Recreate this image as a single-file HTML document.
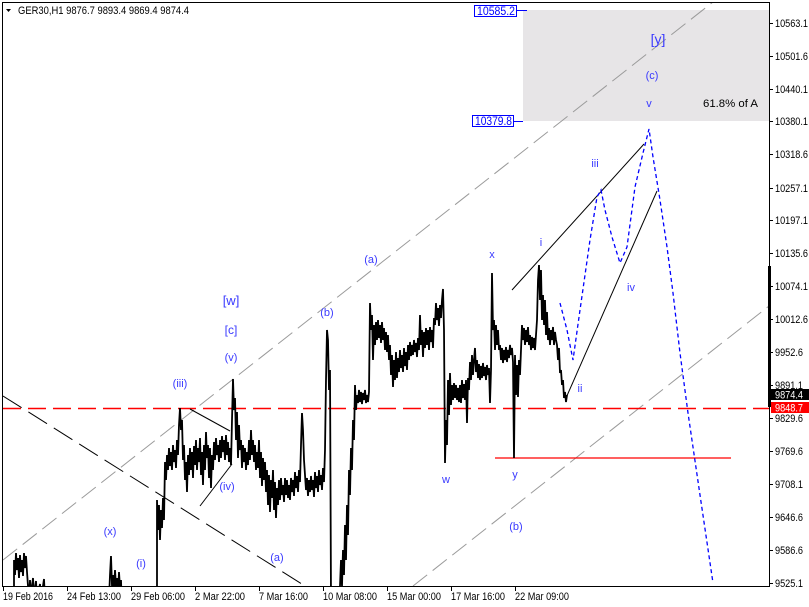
<!DOCTYPE html>
<html>
<head>
<meta charset="utf-8">
<style>
html,body{margin:0;padding:0;background:#fff;}
svg{display:block;}
text{font-family:"Liberation Sans","DejaVu Sans",sans-serif;}
</style>
</head>
<body>
<svg width="809" height="607" viewBox="0 0 809 607" xmlns="http://www.w3.org/2000/svg">
<defs>
<clipPath id="pa"><rect x="3" y="2" width="766" height="584"/></clipPath>
</defs>
<rect x="0" y="0" width="809" height="607" fill="#fff"/>

<!-- gray target box -->
<rect x="523" y="10" width="246" height="111" fill="#e7e5e7"/>

<g clip-path="url(#pa)">
<!-- gray channel lines -->
<line x1="3" y1="560" x2="713" y2="2" stroke="#9a9a9a" stroke-width="1" stroke-dasharray="18,7"/>
<line x1="413" y1="586" x2="769" y2="306" stroke="#9a9a9a" stroke-width="1" stroke-dasharray="18,7"/>
<!-- black dashed line -->
<line x1="3" y1="396" x2="305" y2="586" stroke="#000" stroke-width="1" stroke-dasharray="22,8"/>
<!-- red dashed line -->
<line x1="3" y1="408.5" x2="769" y2="408.5" stroke="#ff0000" stroke-width="1.5" stroke-dasharray="18,7"/>
<!-- red solid -->
<line x1="495" y1="458" x2="731" y2="458" stroke="#ff0000" stroke-width="1.3"/>

<!-- price series -->
<polyline fill="none" stroke="#000" stroke-width="1.8" stroke-linejoin="miter" points="
12,620 14,600 14,560 15,575 16,553 17,570 18,558 19,578 20,555 21,572 22,560 23,576 24,553 25,568 26,556 27,572 28,586 29,600 30,580 31,595 33,578 34,596 36,581 37,598 40,584 41,600 44,579 45,600 46,620 108,620
109,600 110,575 111,556 112,586 113,575 114,590 115,570 116,586 117,578 118,594 119,572 120,588 121,580 122,610 156,620
157,620 157,500 158,530 159,505 160,540 161,510 162,528 163,498 164,520 165,462 166,480 167,455 168,470 169,448 170,466 171,452 172,470 173,445 174,462 175,450 176,468 177,440 178,455 179,425 180,408 181,430 182,420 183,460 184,445 185,480 186,462 187,492 188,455 189,475 190,448 191,470 192,452 193,478 194,446 195,465 196,440 197,470 198,448 199,462 200,438 201,475 202,452 203,485 204,445 205,470 206,432 207,458 208,445 209,478 210,448 211,488 212,455 213,470 214,442 215,460 216,438 217,455 218,445 219,462 220,440 221,458 222,436 223,452 224,440 225,460 226,435 227,455 228,442 229,462 230,448 231,465 232,420 233,379 234,410 235,398 236,440 237,412 238,458 239,425 240,450 241,440 242,468 243,445 244,462 245,448 246,470 247,452 248,465 249,440 250,460 251,430 252,455 253,440 254,462 255,445 256,470 257,452 258,468 259,440 260,478 261,452 262,486 263,458 264,480 265,462 266,492 267,470 268,505 269,475 270,512 271,480 272,498 273,470 274,510 275,482 276,518 277,488 278,505 279,480 280,500 281,478 282,495 283,485 284,502 285,478 286,495 287,480 288,498 289,485 290,500 291,478 292,492 293,480 294,496 295,472 296,488 297,476 298,492 299,470 300,482 301,445 302,413 303,430 304,460 305,475 306,490 307,478 308,496 309,480 310,492 311,476 312,490 313,480 314,497 315,472 316,488 317,476 318,492 319,470 320,485 321,475 322,490 323,468 324,482 325,450 326,380 327,330 328,340 329,390 330,370 331,600 332,620 338,620
340,586 341,560 342,586 343,550 344,575 345,525 346,560 347,505 348,535 349,470 350,495 351,448 352,470 353,420 354,440 355,385 356,410 357,395 358,403 359,390 360,402 361,392 362,404 363,393 364,400 365,390 366,403 367,395 368,402 369,392 370,303 371,330 372,315 373,360 374,325 375,345 376,322 377,340 378,320 379,338 380,325 381,343 382,322 383,340 384,328 385,350 386,332 387,352 388,335 389,360 390,345 391,375 392,355 393,387 394,360 395,380 396,352 397,378 398,358 399,372 400,350 401,368 402,355 403,372 404,348 405,366 406,352 407,370 408,345 409,360 410,342 411,356 412,345 413,355 414,340 415,352 416,343 417,357 418,338 419,350 420,315 421,345 422,330 423,357 424,332 425,348 426,328 427,345 428,330 429,350 430,327 431,342 432,330 433,348 434,318 435,325 436,303 437,320 438,308 439,326 440,305 441,318 442,300 443,289 444,330 445,463 446,420 447,445 448,380 449,415 450,373 451,405 452,385 453,400 454,383 455,398 456,385 457,400 458,388 459,402 460,385 461,403 462,380 463,398 464,384 465,400 466,380 467,423 468,378 469,390 470,362 471,380 472,355 473,375 474,360 475,348 476,372 477,360 478,378 479,364 480,380 481,366 482,378 483,363 484,376 485,367 486,380 487,365 488,375 489,368 490,403 491,370 492,273 493,330 494,320 495,350 496,325 497,345 498,330 499,350 500,345 501,360 502,348 503,363 504,350 505,360 506,347 507,362 508,350 509,358 510,345 511,355 512,348 513,362 514,458 515,355 516,395 517,365 518,397 519,360 520,375 521,350 522,325 523,340 524,328 525,345 526,330 527,342 528,327 529,345 530,335 531,350 532,337 533,348 534,338 535,350 536,335 537,320 538,280 539,265 540,300 541,270 542,320 543,295 544,325 545,300 546,335 547,312 548,340 549,328 550,345 551,330 552,340 553,327 554,345 555,332 556,340 557,345 558,360 559,348 560,373 561,370 562,385 563,380 564,398 565,392 566,402 567,395"/>

<!-- black solid lines -->
<line x1="190" y1="409" x2="230" y2="431" stroke="#000" stroke-width="1"/>
<line x1="200" y1="506" x2="232" y2="464" stroke="#000" stroke-width="1"/>
<line x1="512" y1="290" x2="644" y2="144" stroke="#000" stroke-width="1"/>
<line x1="566" y1="398" x2="657" y2="191" stroke="#000" stroke-width="1"/>

<!-- blue dotted projection -->
<polyline fill="none" stroke="#0000ff" stroke-width="1.3" stroke-dasharray="4,3" points="560,303 567,330 573,360 580,310 590,240 597,197 601,190 605,210 612,237 620,263 627,247 635,187 643,153 649,129 653,157 660,200 667,247 673,293 680,353 688,413 700,495 713,583"/>
</g>

<!-- plot frame -->
<rect x="2.5" y="2.5" width="767" height="584" fill="none" stroke="#000" stroke-width="1"/>
<rect x="768" y="266" width="3" height="141" fill="#000"/>

<!-- header -->
<polygon points="6,9 11,9 8.5,12" fill="#000"/>
<text x="18" y="14" font-size="11" fill="#000" textLength="171" lengthAdjust="spacingAndGlyphs">GER30,H1  9876.7 9893.4 9869.4 9874.4</text>

<!-- box labels -->
<rect x="474.5" y="5.5" width="42" height="11" fill="#fff" stroke="#0000ff" stroke-width="1"/>
<text x="477" y="15" font-size="11.5" fill="#0000ff" textLength="38" lengthAdjust="spacingAndGlyphs">10585.2</text>
<line x1="517" y1="10.5" x2="527" y2="10.5" stroke="#0000ff" stroke-width="1"/>
<rect x="472.5" y="115.5" width="41" height="11" fill="#fff" stroke="#0000ff" stroke-width="1"/>
<text x="475" y="125" font-size="11.5" fill="#0000ff" textLength="37" lengthAdjust="spacingAndGlyphs">10379.8</text>
<line x1="513" y1="121.5" x2="523" y2="121.5" stroke="#0000ff" stroke-width="1"/>

<!-- wave labels -->
<g fill="#3a3aff" font-size="11" text-anchor="middle">
<text x="658" y="44" font-size="14">[y]</text>
<text x="652" y="79">(c)</text>
<text x="649" y="107">v</text>
<text x="371" y="263">(a)</text>
<text x="492" y="258">x</text>
<text x="541" y="246">i</text>
<text x="595" y="167">iii</text>
<text x="631" y="291">iv</text>
<text x="580" y="392">ii</text>
<text x="446" y="483">w</text>
<text x="515" y="478">y</text>
<text x="516" y="530">(b)</text>
<text x="327" y="316">(b)</text>
<text x="231" y="305" font-size="13">[w]</text>
<text x="231" y="334" font-size="12">[c]</text>
<text x="231" y="361">(v)</text>
<text x="180" y="387">(iii)</text>
<text x="227" y="490">(iv)</text>
<text x="277" y="561">(a)</text>
<text x="110" y="535">(x)</text>
<text x="141" y="567">(i)</text>
</g>
<text x="703" y="107" font-size="11" fill="#000" textLength="55" lengthAdjust="spacingAndGlyphs">61.8% of A</text>

<!-- right axis -->
<g stroke="#000" stroke-width="1">
<line x1="770" y1="23.5" x2="773" y2="23.5"/>
<line x1="770" y1="56.5" x2="773" y2="56.5"/>
<line x1="770" y1="89.5" x2="773" y2="89.5"/>
<line x1="770" y1="121.5" x2="773" y2="121.5"/>
<line x1="770" y1="154.5" x2="773" y2="154.5"/>
<line x1="770" y1="188.5" x2="773" y2="188.5"/>
<line x1="770" y1="220.5" x2="773" y2="220.5"/>
<line x1="770" y1="253.5" x2="773" y2="253.5"/>
<line x1="770" y1="286.5" x2="773" y2="286.5"/>
<line x1="770" y1="319.5" x2="773" y2="319.5"/>
<line x1="770" y1="352.5" x2="773" y2="352.5"/>
<line x1="770" y1="385.5" x2="773" y2="385.5"/>
<line x1="770" y1="418.5" x2="773" y2="418.5"/>
<line x1="770" y1="451.5" x2="773" y2="451.5"/>
<line x1="770" y1="484.5" x2="773" y2="484.5"/>
<line x1="770" y1="517.5" x2="773" y2="517.5"/>
<line x1="770" y1="550.5" x2="773" y2="550.5"/>
<line x1="770" y1="583.5" x2="773" y2="583.5"/>
</g>
<g fill="#000" font-size="11">
<text x="775" y="27" textLength="33" lengthAdjust="spacingAndGlyphs">10563.1</text>
<text x="775" y="60" textLength="33" lengthAdjust="spacingAndGlyphs">10501.6</text>
<text x="775" y="93" textLength="33" lengthAdjust="spacingAndGlyphs">10440.1</text>
<text x="775" y="125" textLength="33" lengthAdjust="spacingAndGlyphs">10380.1</text>
<text x="775" y="158" textLength="33" lengthAdjust="spacingAndGlyphs">10318.6</text>
<text x="775" y="192" textLength="33" lengthAdjust="spacingAndGlyphs">10257.1</text>
<text x="775" y="224" textLength="33" lengthAdjust="spacingAndGlyphs">10197.1</text>
<text x="775" y="257" textLength="33" lengthAdjust="spacingAndGlyphs">10135.6</text>
<text x="775" y="290" textLength="33" lengthAdjust="spacingAndGlyphs">10074.1</text>
<text x="775" y="323" textLength="33" lengthAdjust="spacingAndGlyphs">10012.6</text>
<text x="775" y="356" textLength="28" lengthAdjust="spacingAndGlyphs">9952.6</text>
<text x="775" y="389" textLength="28" lengthAdjust="spacingAndGlyphs">9891.1</text>
<text x="775" y="422" textLength="28" lengthAdjust="spacingAndGlyphs">9829.6</text>
<text x="775" y="455" textLength="28" lengthAdjust="spacingAndGlyphs">9769.6</text>
<text x="775" y="488" textLength="28" lengthAdjust="spacingAndGlyphs">9708.1</text>
<text x="775" y="521" textLength="28" lengthAdjust="spacingAndGlyphs">9646.6</text>
<text x="775" y="554" textLength="28" lengthAdjust="spacingAndGlyphs">9586.6</text>
<text x="775" y="587" textLength="28" lengthAdjust="spacingAndGlyphs">9525.1</text>
</g>
<!-- price tags -->
<rect x="771" y="389" width="38" height="11" fill="#000"/>
<text x="775" y="398.5" font-size="11" fill="#fff" textLength="28" lengthAdjust="spacingAndGlyphs">9874.4</text>
<rect x="771" y="402" width="38" height="11" fill="#ff0000"/>
<text x="775" y="411.5" font-size="11" fill="#fff" textLength="28" lengthAdjust="spacingAndGlyphs">9848.7</text>

<!-- bottom axis -->
<g stroke="#000" stroke-width="1">
<line x1="3.5" y1="586" x2="3.5" y2="591"/>
<line x1="67.5" y1="586" x2="67.5" y2="591"/>
<line x1="131.5" y1="586" x2="131.5" y2="591"/>
<line x1="195.5" y1="586" x2="195.5" y2="591"/>
<line x1="259.5" y1="586" x2="259.5" y2="591"/>
<line x1="323.5" y1="586" x2="323.5" y2="591"/>
<line x1="387.5" y1="586" x2="387.5" y2="591"/>
<line x1="451.5" y1="586" x2="451.5" y2="591"/>
<line x1="515.5" y1="586" x2="515.5" y2="591"/>
</g>
<g fill="#000" font-size="11">
<text x="3" y="600" textLength="50" lengthAdjust="spacingAndGlyphs">19 Feb 2016</text>
<text x="67" y="600" textLength="54" lengthAdjust="spacingAndGlyphs">24 Feb 13:00</text>
<text x="131" y="600" textLength="54" lengthAdjust="spacingAndGlyphs">29 Feb 06:00</text>
<text x="195" y="600" textLength="50" lengthAdjust="spacingAndGlyphs">2 Mar 22:00</text>
<text x="259" y="600" textLength="49" lengthAdjust="spacingAndGlyphs">7 Mar 16:00</text>
<text x="323" y="600" textLength="54" lengthAdjust="spacingAndGlyphs">10 Mar 08:00</text>
<text x="387" y="600" textLength="54" lengthAdjust="spacingAndGlyphs">15 Mar 00:00</text>
<text x="451" y="600" textLength="54" lengthAdjust="spacingAndGlyphs">17 Mar 16:00</text>
<text x="515" y="600" textLength="54" lengthAdjust="spacingAndGlyphs">22 Mar 09:00</text>
</g>
</svg>
</body>
</html>
